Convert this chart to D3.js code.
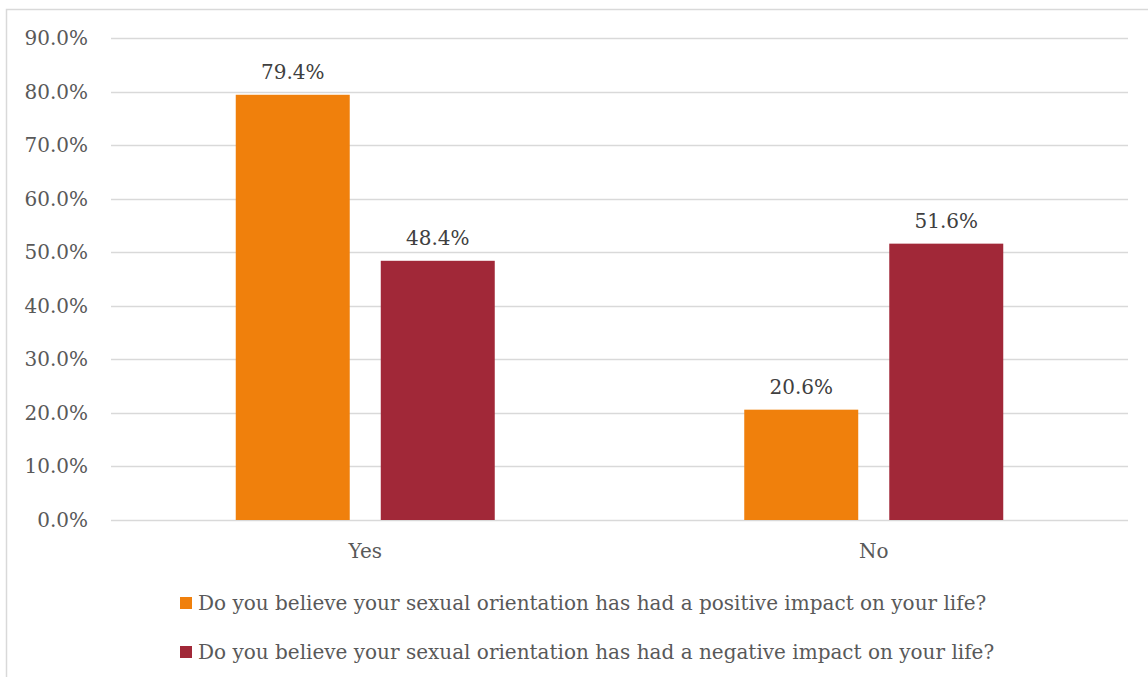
<!DOCTYPE html>
<html>
<head>
<meta charset="utf-8">
<script src="https://cdn.jsdelivr.net/npm/d3@7"></script>
<style>
  body { margin: 0; background: #fff; }
  svg text { font-family: "DejaVu Serif", serif; }
</style>
</head>
<body>
<div id="chart"></div>
<script>
// chart data
var categories = ["Yes", "No"];
var seriesNames = [
  "Do you believe your sexual orientation has had a positive impact on your life?",
  "Do you believe your sexual orientation has had a negative impact on your life?"
];
var positiveVals = [0.794, 0.206];
var negativeVals = [0.484, 0.516];
var yTicks = [0, 0.1, 0.2, 0.3, 0.4, 0.5, 0.6, 0.7, 0.8, 0.9];
var colors = ["#F0800C", "#A12838"];

var W = 1148, H = 677;
var svg = d3.select("#chart").append("svg")
  .attr("width", W)
  .attr("height", H);

// outer chart border (runs off the right and bottom)
svg.append("rect")
  .attr("x", 6.5).attr("y", 9.5)
  .attr("width", W + 10).attr("height", H + 10)
  .attr("fill", "none")
  .attr("stroke", "#d9d9d9")
  .attr("stroke-width", 1.5);

var margin = {left: 111, right: 20, top: 38, bottom: 157};
var plotW = W - margin.left - margin.right,
  plotH = H - margin.top - margin.bottom;

var g = svg.append("g")
  .attr("transform", "translate(" + margin.left + "," + margin.top + ")");

var x = d3.scaleBand()
  .domain(categories)
  .range([0, plotW]);
var x1 = d3.scaleBand()
  .domain([0, 1])
  .range([0, 259])
  .paddingInner(0.214);
var y = d3.scaleLinear()
  .domain([0, 0.9])
  .range([plotH, 0]);

// gridlines
g.append("g")
  .selectAll("line")
  .data(yTicks)
  .enter()
  .append("line")
  .attr("x1", 0).attr("x2", plotW)
  .attr("y1", function(d) { return Math.round(y(d)) + 0.5; })
  .attr("y2", function(d) { return Math.round(y(d)) + 0.5; })
  .attr("stroke", "#d9d9d9")
  .attr("stroke-width", 1.5);

// y axis labels
g.append("g")
  .selectAll("text")
  .data(yTicks)
  .enter()
  .append("text")
  .attr("x", -23)
  .attr("y", function(d) { return y(d); })
  .attr("dy", "0.35em")
  .attr("text-anchor", "end")
  .attr("fill", "#595959")
  .style("font-size", "20px")
  .text(d3.format(".1%"));

// bars
var series = [positiveVals, negativeVals];
series.forEach(function(vals, si) {
  var grp = g.append("g");
  grp.selectAll("rect")
    .data(vals)
    .enter()
    .append("rect")
    .attr("x", function(d, i) {
      return x(categories[i]) + x.bandwidth() / 2 - 129.5 + x1(si);
    })
    .attr("y", function(d) { return y(d); })
    .attr("width", x1.bandwidth())
    .attr("height", function(d) { return plotH - y(d); })
    .attr("fill", colors[si]);

  grp.selectAll("text")
    .data(vals)
    .enter()
    .append("text")
    .attr("x", function(d, i) {
      return x(categories[i]) + x.bandwidth() / 2 - 129.5 + x1(si) + x1.bandwidth() / 2;
    })
    .attr("y", function(d) { return y(d) - 16; })
    .attr("text-anchor", "middle")
    .attr("fill", "#404040")
    .style("font-size", "20px")
    .text(d3.format(".1%"));
});

// category labels
g.append("g")
  .selectAll("text")
  .data(categories)
  .enter()
  .append("text")
  .attr("x", function(d) { return x(d) + x.bandwidth() / 2; })
  .attr("y", plotH + 38)
  .attr("text-anchor", "middle")
  .attr("fill", "#595959")
  .style("font-size", "20px")
  .text(function(d) { return d; });

// legend
var legend = svg.append("g")
  .selectAll("g")
  .data(seriesNames)
  .enter()
  .append("g")
  .attr("transform", function(d, i) {
    return "translate(180," + (597 + i * 49) + ")";
  });
legend.append("rect")
  .attr("width", 12).attr("height", 12)
  .attr("fill", function(d, i) { return colors[i]; });
legend.append("text")
  .attr("x", 18)
  .attr("y", 6)
  .attr("dy", "0.35em")
  .attr("fill", "#595959")
  .style("font-size", "20px")
  .text(function(d) { return d; });
</script>
</body>
</html>
